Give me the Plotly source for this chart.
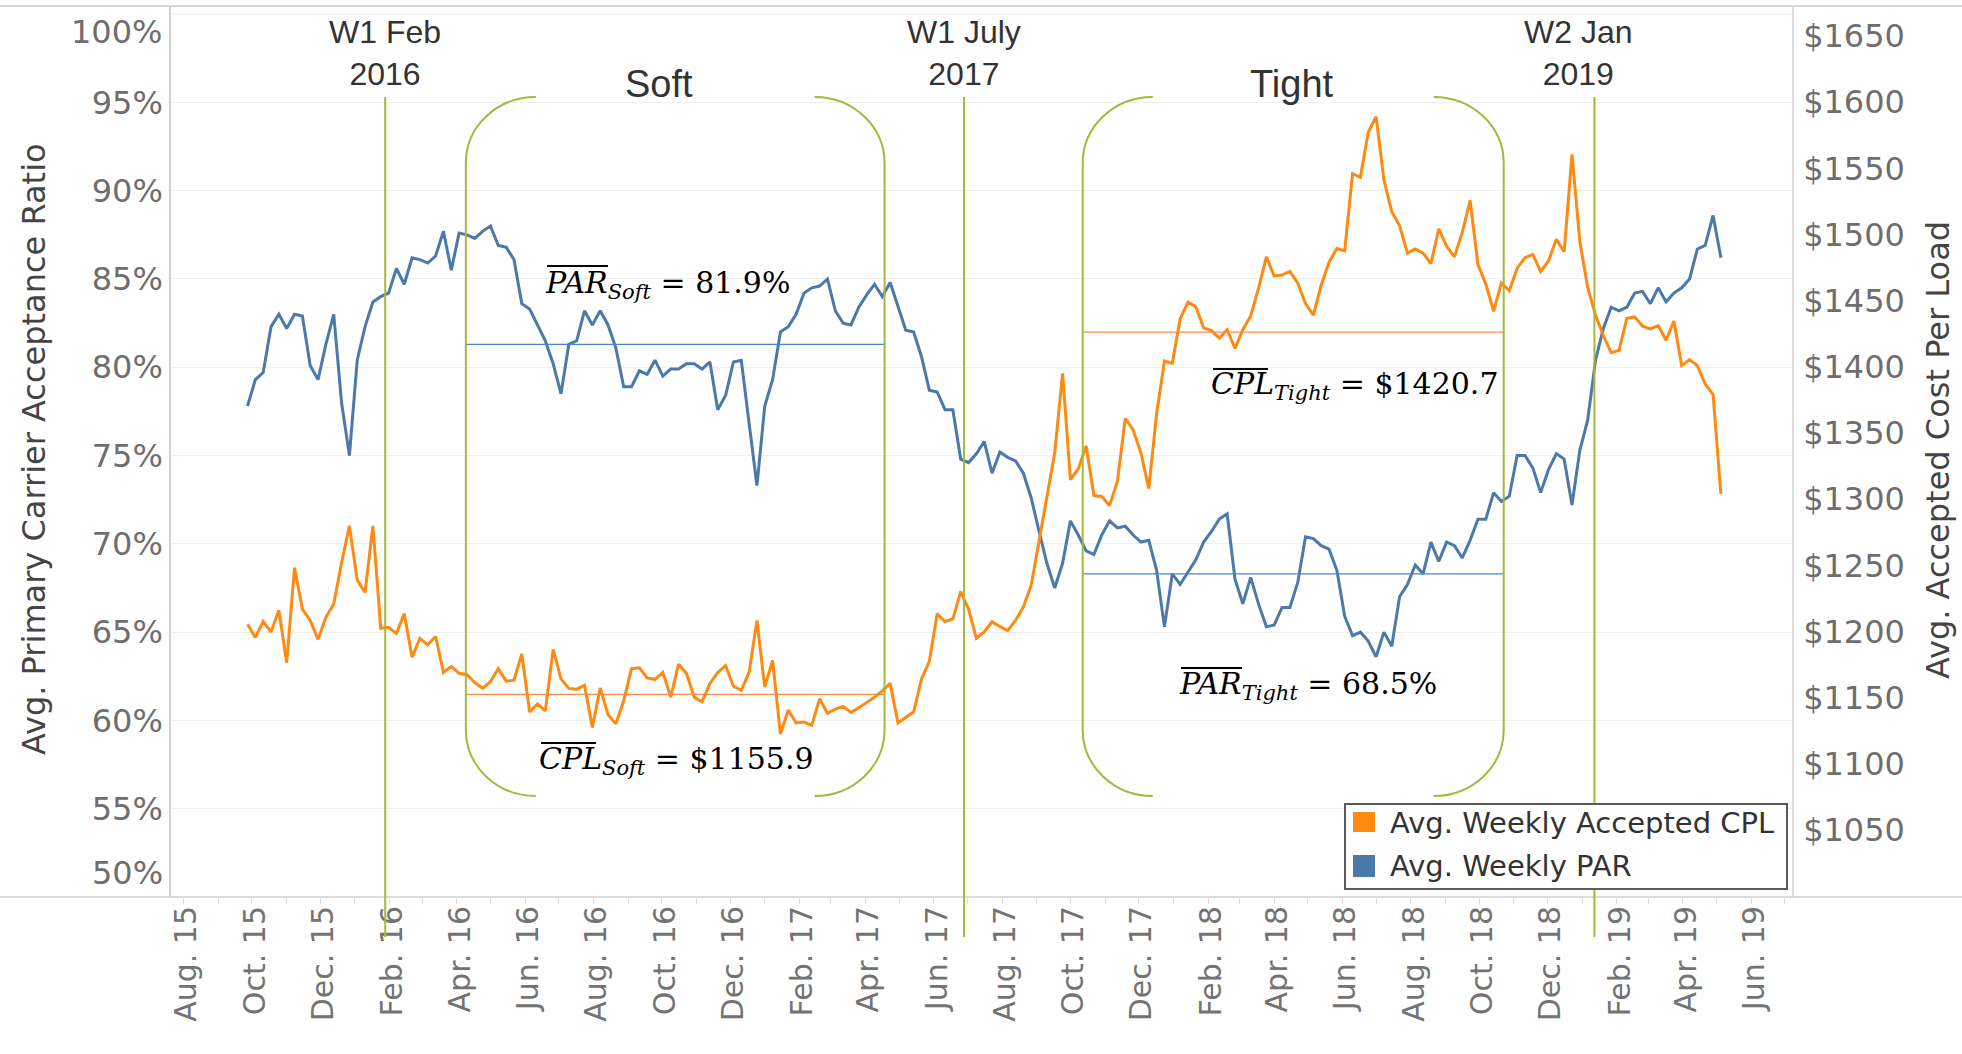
import pandas as pd
import plotly.graph_objects as go

# ---------------- data ----------------
first_week = "2015-09-27"
par_values = [
    77.8, 79.3, 79.7, 82.3, 83.0, 82.2, 83.0, 82.9, 80.1, 79.3, 81.3, 83.0, 78.0, 75.0, 80.4, 82.3,
    83.7, 84.0, 84.2, 85.6, 84.7, 86.2, 86.1, 85.9, 86.3, 87.7, 85.5, 87.6, 87.5, 87.3, 87.7, 88.0,
    86.9, 86.8, 86.1, 83.6, 83.3, 82.4, 81.5, 80.2, 78.5, 81.3, 81.5, 83.2, 82.4, 83.2, 82.4,
    81.1, 78.9, 78.9, 79.8, 79.6, 80.4, 79.5, 79.9, 79.9, 80.2, 80.2, 79.9, 80.3, 77.6, 78.4, 80.3,
    80.4, 76.9, 73.3, 77.8, 79.3, 82.0, 82.3, 83.0, 84.2, 84.5, 84.6, 85.0, 83.2, 82.5, 82.4, 83.4,
    84.1, 84.7, 84.0, 84.8, 83.4, 82.1, 82.0, 80.6, 78.7, 78.6, 77.6, 77.6, 74.8, 74.6, 75.1,
    75.8, 74.0, 75.2, 74.9, 74.7, 74.0, 72.6, 70.7, 68.9, 67.5, 68.9, 71.3, 70.5, 69.6, 69.4, 70.5,
    71.3, 70.9, 71.0, 70.5, 70.1, 70.2, 68.5, 65.3, 68.3, 67.7, 68.4, 69.1, 70.1, 70.7, 71.4, 71.7,
    68.0, 66.6, 68.1, 66.6, 65.3, 65.4, 66.4, 66.4, 67.8, 70.4, 70.3, 69.9, 69.7, 68.5, 65.9,
    64.8, 65.0, 64.5, 63.6, 65.0, 64.2, 67.0, 67.7, 68.8, 68.3, 70.1, 69.0, 70.1, 69.9, 69.2, 70.2,
    71.4, 71.4, 72.9, 72.4, 72.7, 75.0, 75.0, 74.3, 72.9, 74.2, 75.1, 74.8, 72.2, 75.3, 77.0, 80.4,
    82.2, 83.4, 83.2, 83.4, 84.2, 84.3, 83.6, 84.5, 83.7, 84.2, 84.5, 85.0, 86.7, 86.9, 88.6, 86.2,
]
cpl_values = [
    1205.6, 1195.6, 1207.7, 1199.7, 1216.1, 1176.5, 1248.3, 1217.1, 1208.4, 1194.2, 1210.8, 1220.9,
    1251.8, 1279.9, 1239.0, 1229.6, 1279.9, 1202.5, 1203.2, 1198.7, 1213.6, 1180.7, 1194.9, 1190.0,
    1196.3, 1169.2, 1173.7, 1168.5, 1167.5, 1161.6, 1157.1, 1162.3, 1172.0, 1162.6, 1163.3, 1183.1,
    1139.4, 1145.3, 1140.1, 1186.6, 1164.3, 1157.1, 1156.4, 1159.5, 1127.6, 1157.4, 1137.3,
    1130.3, 1147.7, 1172.0, 1172.7, 1165.0, 1164.0, 1169.2, 1150.5, 1175.4, 1168.5, 1150.5, 1147.0,
    1160.9, 1169.2, 1174.4, 1158.8, 1155.7, 1169.2, 1208.4, 1158.1, 1178.2, 1122.7, 1140.8, 1131.0,
    1131.7, 1129.3, 1149.4, 1138.3, 1141.4, 1143.5, 1139.0, 1142.5, 1146.3, 1150.5, 1155.3, 1160.9,
    1131.0, 1134.9, 1139.4, 1164.3, 1177.6, 1213.6, 1207.7, 1209.5, 1230.3, 1217.1, 1195.0,
    1199.7, 1207.4, 1203.9, 1200.8, 1208.4, 1218.8, 1235.1, 1269.2, 1302.1, 1335.1, 1395.1, 1314.9,
    1322.9, 1340.3, 1302.8, 1302.1, 1295.2, 1313.6, 1361.1, 1352.4, 1335.1, 1308.0, 1364.6, 1404.5,
    1402.7, 1436.4, 1448.9, 1445.4, 1429.5, 1427.4, 1421.8, 1428.1, 1413.9, 1428.1, 1438.5, 1459.3,
    1483.2, 1468.7, 1469.4, 1472.1, 1463.5, 1447.8, 1439.2, 1461.7, 1479.1, 1489.5, 1487.8,
    1546.0, 1543.3, 1577.3, 1589.1, 1541.5, 1517.3, 1506.8, 1486.0, 1489.1, 1486.0, 1478.0, 1504.4,
    1491.2, 1483.2, 1501.6, 1525.9, 1477.3, 1462.8, 1442.0, 1463.5, 1457.6, 1474.6, 1482.5, 1485.0,
    1472.1, 1480.1, 1496.4, 1487.1, 1560.6, 1494.7, 1460.0, 1439.2, 1423.6, 1410.7, 1412.5, 1436.8,
    1437.8, 1430.8, 1428.8, 1431.2, 1420.1, 1434.7, 1401.0, 1405.5, 1401.0, 1387.1, 1379.1, 1303.9,
]
weeks = pd.date_range(first_week, periods=len(par_values), freq="7D")

period_names = ["Soft", "Tight"]
period_start = ["2016-04-09", "2017-10-12"]
period_end = ["2017-04-18", "2018-10-23"]
par_mean_drawn = [81.3, 68.3]
cpl_mean_drawn = [1152.6, 1426.3]
par_mean_text = ["81.9%", "68.5%"]
cpl_mean_text = ["$1155.9", "$1420.7"]

event_dates = ["2016-01-28", "2017-06-28", "2019-01-12"]
event_labels = ["W1 Feb<br>2016", "W1 July<br>2017", "W2 Jan<br>2019"]
event_label_shift = [0, 0, -16]

left_ticks = [55, 60, 65, 70, 75, 80, 85, 90, 95]
left_end_ticks = [50, 100]
right_ticks = [1050, 1100, 1150, 1200, 1250, 1300, 1350, 1400, 1450, 1500, 1550, 1600, 1650]

# ---------------- styling ----------------
W, H = 1962, 1054
L, R, T, B = 171, 1792, 6, 897
BLUE = "#4a79aa"
ORANGE = "#ff8a12"
GREEN = "#a6b83c"
TICK_GRAY = "#6e6e6e"


def px(x):
    return (x - L) / (R - L)


def py(y):
    return (B - y) / (B - T)


fig = go.Figure()
fig.add_trace(go.Scatter(x=weeks, y=par_values, name="Avg. Weekly PAR", mode="lines",
                         line=dict(color=BLUE, width=3), yaxis="y", showlegend=False))
for s, e, v in zip(period_start, period_end, par_mean_drawn):
    fig.add_trace(go.Scatter(x=[s, e], y=[v, v], mode="lines", line=dict(color="#4f80d0", width=1.3),
                             yaxis="y", showlegend=False, hoverinfo="skip"))
fig.add_trace(go.Scatter(x=weeks, y=cpl_values, name="Avg. Weekly Accepted CPL", mode="lines",
                         line=dict(color=ORANGE, width=3), yaxis="y2", showlegend=False))
for s, e, v in zip(period_start, period_end, cpl_mean_drawn):
    fig.add_trace(go.Scatter(x=[s, e], y=[v, v], mode="lines", line=dict(color="#f98c4e", width=1.3),
                             yaxis="y2", showlegend=False, hoverinfo="skip"))

shapes = []
# gridline at the top tick value (its label is drawn separately)
shapes.append(dict(type="line", xref="paper", yref="y", x0=0, x1=1, y0=left_end_ticks[1], y1=left_end_ticks[1],
                   line=dict(color="#efefef", width=1), layer="below"))
# frame lines (full width top and bottom)
shapes.append(dict(type="line", xref="paper", yref="paper", x0=px(0), x1=px(W), y0=py(6), y1=py(6),
                   line=dict(color="#d9d9d9", width=2), layer="above"))
shapes.append(dict(type="line", xref="paper", yref="paper", x0=px(0), x1=px(W), y0=0, y1=0,
                   line=dict(color="#cfcfcf", width=1.5), layer="above"))

# event lines
for d in event_dates:
    shapes.append(dict(type="line", xref="x", yref="paper", x0=d, x1=d, y0=py(937), y1=py(97),
                       line=dict(color=GREEN, width=2), layer="above"))

# brackets around periods
k = 0.5523
rx, ry = 70, 66
yt, yb = 97, 796


def bracket(anchor, sign):
    dx = sign * rx
    c = dx * (1 - k)
    path = (f"M {dx},{py(yt)} C {c},{py(yt)} 0,{py(yt + ry - k * ry)} 0,{py(yt + ry)} "
            f"L 0,{py(yb - ry)} C 0,{py(yb - ry + k * ry)} {c},{py(yb)} {dx},{py(yb)}")
    return dict(type="path", xref="x", yref="paper", xsizemode="pixel", xanchor=anchor,
                path=path, line=dict(color=GREEN, width=2), layer="above")


for s, e in zip(period_start, period_end):
    shapes.append(bracket(s, 1))
    shapes.append(bracket(e, -1))

# manual legend
shapes.append(dict(type="rect", xref="paper", yref="paper", x0=px(1345), x1=px(1787), y0=py(889), y1=py(804),
                   line=dict(color="#5a5a5a", width=2), fillcolor="white", layer="above"))
shapes.append(dict(type="rect", xref="paper", yref="paper", x0=px(1353), x1=px(1375), y0=py(832), y1=py(812),
                   line=dict(width=0), fillcolor=ORANGE, layer="above"))
shapes.append(dict(type="rect", xref="paper", yref="paper", x0=px(1353), x1=px(1375), y0=py(877), y1=py(855),
                   line=dict(width=0), fillcolor=BLUE, layer="above"))

ann = []
for d, lab, sh in zip(event_dates, event_labels, event_label_shift):
    ann.append(dict(x=d, xref="x", y=py(53), yref="paper", text=lab, showarrow=False, xshift=sh,
                    font=dict(family="Liberation Sans", size=32, color="#333333"),
                    xanchor="center", yanchor="middle"))
for name, cx in zip(period_names, [659, 1292]):
    ann.append(dict(x=px(cx), xref="paper", y=py(84), yref="paper", text=name, showarrow=False,
                    font=dict(family="Liberation Sans", size=38, color="#333333"),
                    xanchor="center", yanchor="middle"))

math_font = dict(family="DejaVu Serif", size=30, color="black")
# (left x, centre y, text, overline x0, overline x1, overline y) in page pixels
labels = [
    (543, 284, f"<i>PAR</i><sub><i>Soft</i></sub> = {par_mean_text[0]}", 547, 608, 266),
    (537, 760, f"<i>CPL</i><sub><i>Soft</i></sub> = {cpl_mean_text[0]}", 541, 596, 743),
    (1209, 386, f"<i>CPL</i><sub><i>Tight</i></sub> = {cpl_mean_text[1]}", 1213, 1268, 369),
    (1177, 685, f"<i>PAR</i><sub><i>Tight</i></sub> = {par_mean_text[1]}", 1181, 1242, 668),
]
for lx, cy, t, ox0, ox1, oy in labels:
    ann.append(dict(x=px(lx), xref="paper", y=py(cy), yref="paper", text=t, showarrow=False,
                    font=math_font, xanchor="left", yanchor="middle"))
    shapes.append(dict(type="line", xref="paper", yref="paper", x0=px(ox0), x1=px(ox1), y0=py(oy), y1=py(oy),
                       line=dict(color="black", width=2), layer="above"))

# legend texts
ann.append(dict(x=px(1388), xref="paper", y=py(823), yref="paper", text="Avg. Weekly Accepted CPL",
                showarrow=False, font=dict(family="DejaVu Sans", size=29, color="#333333"),
                xanchor="left", yanchor="middle"))
ann.append(dict(x=px(1388), xref="paper", y=py(866), yref="paper", text="Avg. Weekly PAR",
                showarrow=False, font=dict(family="DejaVu Sans", size=29, color="#333333"),
                xanchor="left", yanchor="middle"))

# axis titles
ann.append(dict(x=px(34), xref="paper", y=py(449), yref="paper", text="Avg. Primary Carrier Acceptance Ratio",
                textangle=-90, showarrow=False, font=dict(family="DejaVu Sans", size=32, color="#444444"),
                xanchor="center", yanchor="middle"))
ann.append(dict(x=px(1938), xref="paper", y=py(450), yref="paper", text="Avg. Accepted Cost Per Load",
                textangle=-90, showarrow=False, font=dict(family="DejaVu Sans", size=32, color="#444444"),
                xanchor="center", yanchor="middle"))

# end labels of the left axis, nudged inside the plot like the original
ann.append(dict(x=px(164), xref="paper", y=py(32), yref="paper", text=f"{left_end_ticks[1]}%", showarrow=False,
                font=dict(family="DejaVu Sans", size=32, color=TICK_GRAY), xanchor="right", yanchor="middle"))
ann.append(dict(x=px(165), xref="paper", y=py(873), yref="paper", text=f"{left_end_ticks[0]}%", showarrow=False,
                font=dict(family="DejaVu Sans", size=32, color=TICK_GRAY), xanchor="right", yanchor="middle"))

left_text = [f"{v}%" for v in left_ticks]
right_text = [f"${v}" for v in right_ticks]

fig.update_layout(
    width=W, height=H,
    margin=dict(l=L, r=W - R, t=T, b=H - B, pad=0),
    paper_bgcolor="white", plot_bgcolor="white",
    font=dict(family="DejaVu Sans", color=TICK_GRAY),
    showlegend=False,
    xaxis=dict(type="date", range=["2015-07-20 16:00", "2019-07-07 12:00"],
               tick0="2015-08-01", dtick="M2", tickformat="%b. %y", tickangle=-90,
               tickfont=dict(family="DejaVu Sans", size=30, color="#737373"),
               ticks="outside", ticklen=6, tickcolor="#dddddd", ticklabelstandoff=-10, ticklabelshift=3,
               minor=dict(dtick="M1", ticks="outside", ticklen=6, tickcolor="#dddddd"),
               showgrid=False, zeroline=False, showline=False),
    yaxis=dict(range=[50, 100.46], tickvals=left_ticks, ticktext=left_text,
               tickfont=dict(family="DejaVu Sans", size=32, color=TICK_GRAY),
               showgrid=True, gridcolor="#efefef", gridwidth=1, zeroline=False,
               showline=True, linecolor="#d0d0d0", linewidth=1.5, ticks="", ticklabelstandoff=0),
    yaxis2=dict(range=[999.5, 1672.7], overlaying="y", side="right", tickvals=right_ticks,
                ticktext=right_text, tickfont=dict(family="DejaVu Sans", size=32, color=TICK_GRAY),
                showgrid=False, zeroline=False, showline=True, linecolor="#dedede", linewidth=1.5,
                ticks="", ticklabelstandoff=3),
    shapes=shapes,
    annotations=ann,
)

fig.write_html("out.html", config={"displayModeBar": False},
               post_script="document.body.style.margin='0';document.body.style.overflow='hidden';")
